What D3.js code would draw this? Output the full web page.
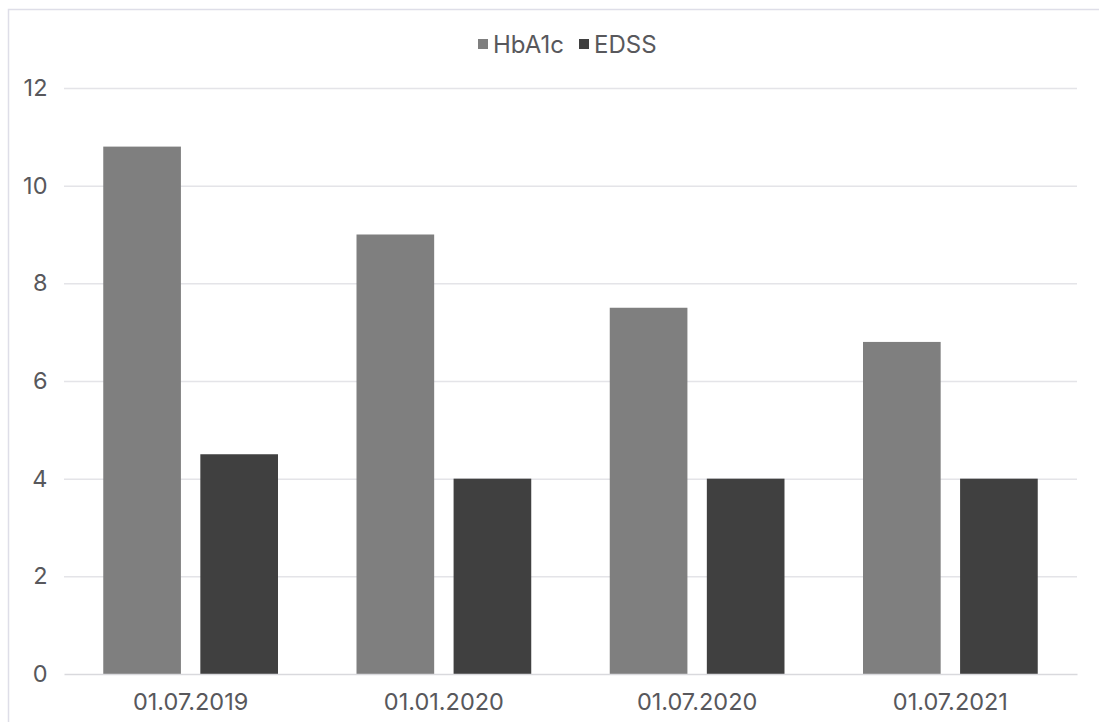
<!DOCTYPE html>
<html><head><meta charset="utf-8">
<script src="https://cdn.jsdelivr.net/npm/d3@7"></script>
<style>body{margin:0;background:#fff;}svg{display:block;font-family:Inter,"Noto Sans",sans-serif;}</style>
</head><body><svg id="c" width="1099" height="722"></svg>
<script>
const categories = ["01.07.2019","01.01.2020","01.07.2020","01.07.2021"];
const seriesNames = ["HbA1c","EDSS"];
const hba1c = [10.8, 9.0, 7.5, 6.8];
const edss = [4.5, 4.0, 4.0, 4.0];
const yTicks = [0,2,4,6,8,10,12];
const colors = ["#7f7f7f","#404040"];

const svg = d3.select("#c");
svg.append("rect").attr("x",8.5).attr("y",9.5).attr("width",1200).attr("height",1200)
  .attr("fill","#fff").attr("stroke","#dedee8").attr("stroke-width",1.5);

const pL=64, pR=1077, pT=88, pB=674;
const x0 = d3.scaleBand().domain(categories).range([pL,pR]).paddingInner(0.31).paddingOuter(0.155);
const x1 = d3.scaleBand().domain(seriesNames).range([0,x0.bandwidth()]).paddingInner(0.2);
const y = d3.scaleLinear().domain([0,12]).range([pB,pT]);

const grid = svg.append("g");
grid.selectAll("line").data(yTicks.filter(d=>d>0)).join("line")
  .attr("x1",pL).attr("x2",pR).attr("y1",d=>y(d)+0.5).attr("y2",d=>y(d)+0.5)
  .attr("stroke","#e4e4e8").attr("stroke-width",1.5);

const yAxis = d3.axisLeft(y).tickValues(yTicks).tickSize(0).tickPadding(16.5);
const gy = svg.append("g").attr("transform",`translate(${pL},0)`).call(yAxis);
gy.select(".domain").remove();
gy.attr("font-family",null);
gy.selectAll("text").attr("font-size",23.5).attr("fill","#58585c");

const data = categories.map((c,i)=>({c, vals:[hba1c[i], edss[i]]}));
const g = svg.append("g");
g.selectAll("g").data(data).join("g").attr("transform",d=>`translate(${x0(d.c)},0)`)
  .selectAll("rect").data(d=>d.vals.map((v,j)=>({s:seriesNames[j],v,j}))).join("rect")
  .attr("x",d=>x1(d.s)).attr("width",x1.bandwidth())
  .attr("y",d=>y(d.v)).attr("height",d=>y(0)-y(d.v)).attr("fill",d=>colors[d.j]);

const xAxis = d3.axisBottom(d3.scaleBand().domain(categories).range([pL,pR])).tickSize(0).tickPadding(19);
const gx = svg.append("g").attr("transform",`translate(0,${pB})`).call(xAxis);
gx.attr("font-family",null);
gx.select(".domain").attr("stroke","#d9d9dd").attr("stroke-width",1.5);
gx.selectAll("text").attr("font-size",23.5).attr("fill","#58585c");

// legend
const leg = svg.append("g");
const legX = [478, 579];
seriesNames.forEach((s,i)=>{
  leg.append("rect").attr("x",legX[i]).attr("y",39).attr("width",10).attr("height",10).attr("fill",colors[i]);
  leg.append("text").attr("x",legX[i]+15).attr("y",53).attr("font-size",24).attr("fill","#58585c").text(s);
});
</script></body></html>
